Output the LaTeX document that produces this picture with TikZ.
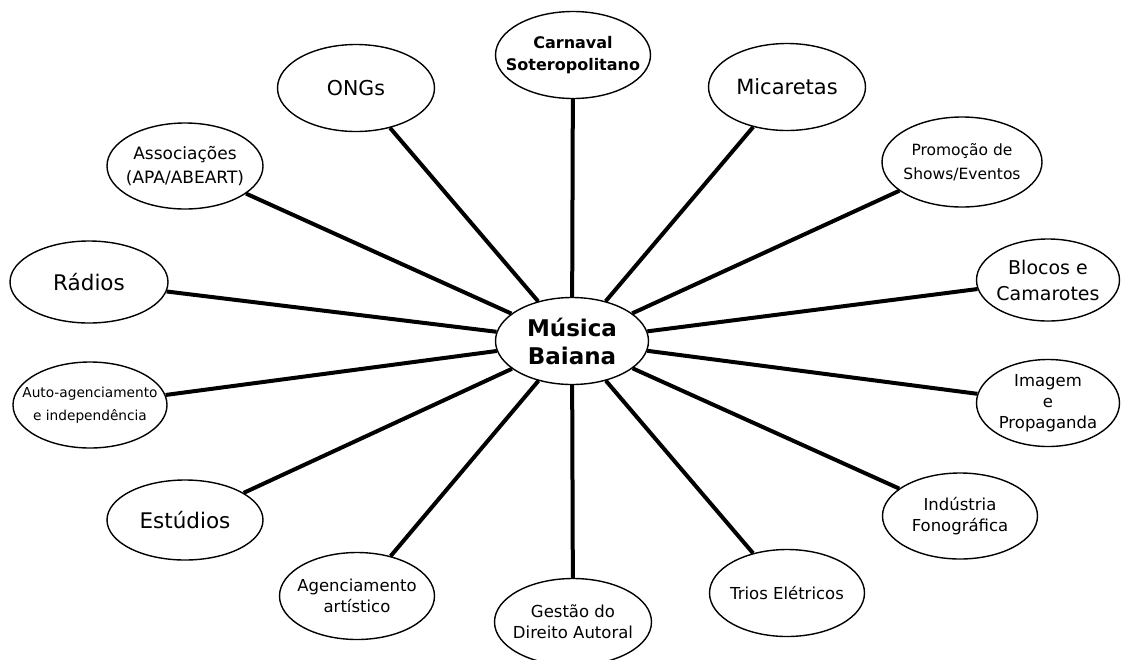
\documentclass[tikz,border=0pt]{standalone}
\usepackage{fontspec}
\setmainfont{DejaVu Sans}
\usetikzlibrary{shapes.geometric}

\tikzset{
  bubble/.style={ellipse, draw, line width=1.4pt, fill=white, inner sep=0pt,
    minimum width=155pt, minimum height=87pt},
  spoke/.style={line width=4pt},
  txt/.style={align=center, inner sep=0pt},
}
\newcommand{\fs}[2]{\fontsize{#1}{#2}\selectfont}

\begin{document}
\begin{tikzpicture}[x=1pt, y=-1pt]
  \useasboundingbox (0,0) rectangle (1122,659);
  \fill[white] (0,0) rectangle (1122,659);

  % hub
  \node[bubble, minimum width=153pt] (mb) at (572,341) {};
  \node[txt, font=\bfseries\fs{23}{28}] at (mb) {Música\\Baiana};

  % surrounding concepts
  \node[bubble] (car) at (573,55) {};
  \node[txt, font=\bfseries\fs{16}{22}] at (car) {Carnaval\\Soteropolitano};

  \node[bubble, minimum width=157pt] (ong) at (356,88) {};
  \node[txt, font=\fs{20.5}{24}] at (ong) {ONGs};

  \node[bubble, minimum width=157pt] (mic) at (787,87) {};
  \node[txt, font=\fs{21}{24}] at (mic) {Micaretas};

  \node[bubble, minimum width=156pt, minimum height=86pt] (ass) at (185,166) {};
  \node[txt, font=\fs{17}{24}] at (ass) {Associações\\(APA/ABEART)};

  \node[bubble, minimum width=160pt, minimum height=90pt] (pro) at (962,162) {};
  \node[txt, font=\fs{15.5}{24}] at (pro) {Promoção de\\Shows/Eventos};

  \node[bubble, minimum width=158pt, minimum height=82pt] (rad) at (89,282) {};
  \node[txt, font=\fs{21.5}{24}] at (rad) {Rádios};

  \node[bubble, minimum width=143pt, minimum height=82pt] (blo) at (1048,280) {};
  \node[txt, font=\fs{19}{26}] at (blo) {Blocos e\\Camarotes};

  \node[bubble, minimum width=154pt, minimum height=86pt] (aut) at (90,405) {};
  \node[txt, font=\fs{13.7}{23}] at (aut) {Auto-agenciamento\\e independência};

  \node[bubble, minimum width=143pt] (ima) at (1048,403) {};
  \node[txt, font=\fs{16.5}{21}] at (ima) {Imagem\\e\\Propaganda};

  \node[bubble, minimum width=156pt, minimum height=80pt] (est) at (185,520) {};
  \node[txt, font=\fs{21.5}{25}] at (est) {Estúdios};

  \node[bubble, minimum height=86pt] (ind) at (960,516) {};
  \node[txt, font=\fs{16.5}{21}] at (ind) {Indústria\\Fonográfica};

  \node[bubble] (age) at (357,596) {};
  \node[txt, font=\fs{16.5}{21}] at (age) {Agenciamento\\artístico};

  \node[bubble, minimum width=157pt] (ges) at (573,622) {};
  \node[txt, font=\fs{16.5}{21}] at (ges) {Gestão do\\Direito Autoral};

  \node[bubble] (tri) at (787,593) {};
  \node[txt, font=\fs{16.5}{21}] at (tri) {Trios Elétricos};

  % spokes from the hub
  \foreach \n in {car,ong,mic,ass,pro,rad,blo,aut,ima,est,ind,age,ges,tri}
    \draw[spoke] (mb) -- (\n);
\end{tikzpicture}
\end{document}
